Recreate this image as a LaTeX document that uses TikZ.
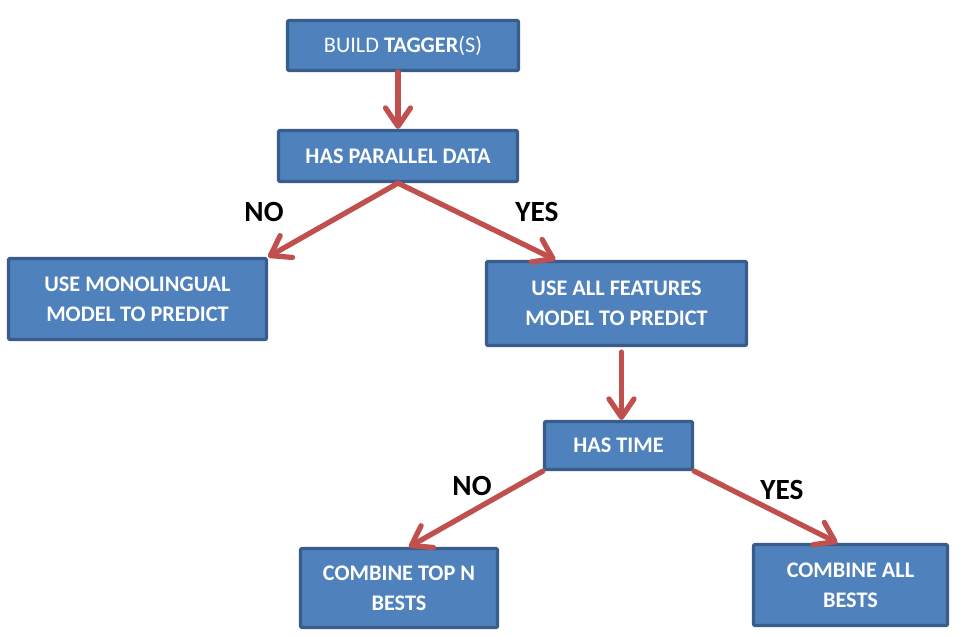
\documentclass[tikz,border=0pt]{standalone}
\usepackage{fontspec}
\setmainfont{Carlito}
\usepackage{xcolor}
\usetikzlibrary{arrows.meta,calc,shadows}
\definecolor{fcFill}{HTML}{4F81BD}
\definecolor{fcEdge}{HTML}{385D8A}
\definecolor{fcArrow}{HTML}{C0504D}
\tikzset{
  fc diagram/.style={line cap=round, line join=round},
  fc box/.style={draw=fcEdge, fill=fcFill, line width=2.7pt,
    rounded corners=1pt, align=center, inner sep=4pt, text=white,
    font=\fontsize{19}{25.5}\selectfont\bfseries,
    drop shadow={opacity=0.25, shadow xshift=1.2pt, shadow yshift=-1.2pt}},
  fc arrow/.style={-{Straight Barb[length=5.5mm,width=7.5mm,round]},
    draw=fcArrow, line width=4.5pt},
  fc label/.style={font=\fontsize{25}{30}\selectfont\bfseries, text=black}
}

\begin{document}
\begin{tikzpicture}[fc diagram,x=0.03cm,y=-0.03cm]
\useasboundingbox (0,0) rectangle (964,635);
% boxes
\node[fc box,minimum width=6.93cm,minimum height=1.5cm] (build) at (403,45.5)
  {\mdseries BUILD \bfseries TAGGER\mdseries (S)};
\node[fc box,minimum width=7.17cm,minimum height=1.53cm] (parallel) at (398,156) {HAS PARALLEL DATA};
\node[fc box,minimum width=7.74cm,minimum height=2.43cm] (mono) at (137.5,299) {USE MONOLINGUAL\\MODEL TO PREDICT};
\node[fc box,minimum width=7.8cm,minimum height=2.52cm] (allfeat) at (616.5,303.5) {USE ALL FEATURES\\MODEL TO PREDICT};
\node[fc box,minimum width=4.44cm,minimum height=1.44cm] (time) at (618.5,445.5) {HAS TIME};
\node[fc box,minimum width=5.91cm,minimum height=2.37cm] (topn) at (399,588) {COMBINE TOP N\\BESTS};
\node[fc box,minimum width=5.82cm,minimum height=2.43cm] (allbest) at (850.5,585) {COMBINE ALL\\BESTS};
% connectors
\draw[fc arrow] (parallel.north |- build.south) -- (parallel.north);
\draw[fc arrow] (parallel.south) -- (mono.north east);
\draw[fc arrow] (parallel.south) -- ($(allfeat.north)+(-61,0)$);
\draw[fc arrow] ($(time.north |- allfeat.south)+(3,5)$) -- ($(time.north)+(3,0)$);
\draw[fc arrow] (time.south west) -- ($(topn.north)+(10,0)$);
\draw[fc arrow] (time.south east) -- ($(allbest.north)+(-13,0)$);
% answers
\node[fc label] (no1) at (264,212) {NO};
\node[fc label] (yes1) at (537,212) {YES};
\node[fc label] (no2) at (472,486) {NO};
\node[fc label] (yes2) at (782,490) {YES};
\end{tikzpicture}
\end{document}
